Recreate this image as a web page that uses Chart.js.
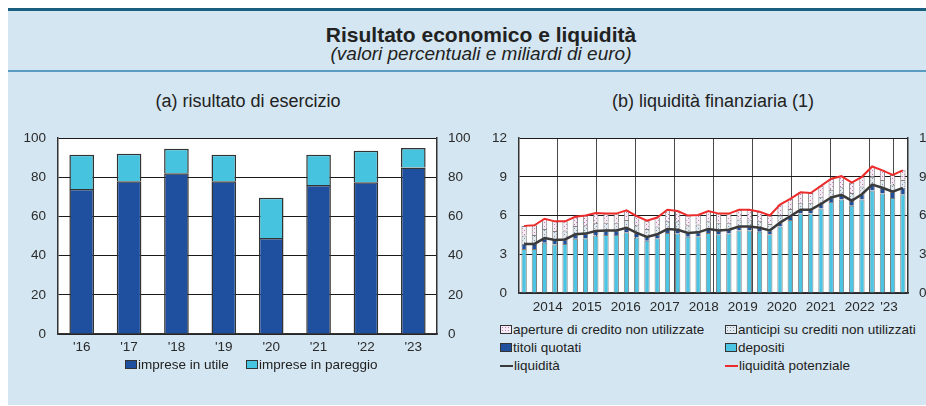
<!DOCTYPE html>
<html>
<head>
<meta charset="utf-8">
<script src="https://cdn.jsdelivr.net/npm/chart.js@4/dist/chart.umd.min.js"></script>
<style>
  html, body { margin: 0; padding: 0; background: #fff; overflow: hidden; }
  body { width: 926px; height: 406px; position: relative; font-family: "Liberation Sans", Arial, sans-serif; color: #222; }
  #panel { position: absolute; left: 8px; top: 8px; width: 946px; height: 394px; background: #d4e6f1; border-top: 3px solid #1b5f80; }
  #sep { position: absolute; left: 8px; top: 70px; width: 946px; height: 2px; background: #5b9dc2; }
  .t { position: absolute; white-space: nowrap; text-align: center; }
  #title { left: 8px; width: 946px; top: 23px; font-size: 21px; font-weight: bold; }
  #subtitle { left: 8px; width: 946px; top: 43px; font-size: 19px; font-style: italic; }
  #ta { left: 48px; width: 400px; top: 91px; font-size: 18px; }
  #tb { left: 513px; width: 400px; top: 91px; font-size: 18px; }
  canvas { position: absolute; }
  #c1 { left: 0; top: 118px; }
  #c2 { left: 480px; top: 118px; }
  .leg { position: absolute; font-size: 13.5px; white-space: nowrap; }
  .leg .it { position: absolute; display: flex; align-items: center; }
  .leg .ic { display: inline-block; box-sizing: border-box; margin-right: 1px; }
</style>
</head>
<body>
<div id="panel"></div>
<div id="sep"></div>
<div class="t" id="title">Risultato economico e liquidità</div>
<div class="t" id="subtitle">(valori percentuali e miliardi di euro)</div>
<div class="t" id="ta">(a) risultato di esercizio</div>
<div class="t" id="tb">(b) liquidità finanziaria (1)</div>
<canvas id="c1" width="480" height="240"></canvas>
<canvas id="c2" width="470" height="199"></canvas>
<div class="leg" id="leg1"></div>
<div class="leg" id="leg2"></div>
<script>
// (a) risultato di esercizio - quota di imprese
var anni = ["'16", "'17", "'18", "'19", "'20", "'21", "'22", "'23"];
var impreseUtile = [74, 78, 82, 78, 49, 76, 77.5, 85];
var impresePareggio = [17.5, 14, 12.5, 13.5, 20.5, 15.5, 16, 10];

// (b) liquidità finanziaria - dati trimestrali
var trimestri = [
    '2014T1', '2014T2', '2014T3', '2014T4', '2015T1', '2015T2', '2015T3', '2015T4',
    '2016T1', '2016T2', '2016T3', '2016T4', '2017T1', '2017T2', '2017T3', '2017T4',
    '2018T1', '2018T2', '2018T3', '2018T4', '2019T1', '2019T2', '2019T3', '2019T4',
    '2020T1', '2020T2', '2020T3', '2020T4', '2021T1', '2021T2', '2021T3', '2021T4',
    '2022T1', '2022T2', '2022T3', '2022T4', '2023T1', '2023T2'
];
var etichetteAnni = ['2014', '2015', '2016', '2017', '2018', '2019', '2020', '2021', '2022', "'23"];
var depositi = [3.4, 3.4, 3.9, 3.75, 3.8, 4.2, 4.25, 4.45, 4.5, 4.5, 4.7, 4.3, 4.05, 4.25, 4.65, 4.6, 4.35, 4.4, 4.65,
    4.55, 4.6, 4.85, 4.85, 4.75, 4.55, 5.15, 5.65, 6.15, 6.15, 6.55, 7.05, 7.25, 6.75, 7.25, 7.95, 7.7, 7.35, 7.65];
var titoli = [0.4, 0.4, 0.35, 0.35, 0.35, 0.35, 0.35, 0.35, 0.35, 0.35, 0.35, 0.35, 0.3, 0.3, 0.3, 0.3, 0.3, 0.3, 0.3,
    0.3, 0.3, 0.3, 0.3, 0.3, 0.3, 0.3, 0.3, 0.3, 0.3, 0.35, 0.35, 0.35, 0.4, 0.4, 0.45, 0.45, 0.5, 0.5];
var anticipi = [0.65, 0.7, 0.7, 0.7, 0.7, 0.65, 0.65, 0.65, 0.6, 0.6, 0.6, 0.6, 0.6, 0.6, 0.65, 0.65, 0.6, 0.6, 0.6,
    0.6, 0.55, 0.55, 0.55, 0.55, 0.5, 0.55, 0.55, 0.55, 0.55, 0.55, 0.6, 0.6, 0.6, 0.6, 0.6, 0.6, 0.55, 0.6];
var aperture = [0.75, 0.75, 0.8, 0.75, 0.7, 0.7, 0.75, 0.75, 0.7, 0.7, 0.75, 0.7, 0.65, 0.7, 0.85, 0.8, 0.75, 0.75, 0.8,
    0.7, 0.7, 0.75, 0.75, 0.7, 0.65, 0.85, 0.8, 0.8, 0.75, 0.85, 0.85, 0.85, 0.8, 0.75, 0.8, 0.75, 0.75, 0.75];
var liquidita = [3.8, 3.8, 4.25, 4.1, 4.15, 4.55, 4.6, 4.8, 4.85, 4.85, 5.05, 4.65, 4.35, 4.55, 4.95, 4.9, 4.65, 4.7, 4.95,
    4.85, 4.9, 5.15, 5.15, 5.05, 4.85, 5.45, 5.95, 6.45, 6.45, 6.9, 7.4, 7.6, 7.15, 7.65, 8.4, 8.15, 7.85, 8.15];
var liquiditaPotenziale = [5.2, 5.25, 5.75, 5.55, 5.55, 5.9, 6.0, 6.2, 6.15, 6.15, 6.4, 5.95, 5.6, 5.85, 6.45, 6.35, 6.0,
    6.05, 6.35, 6.15, 6.15, 6.45, 6.45, 6.3, 6.0, 6.85, 7.3, 7.8, 7.75, 8.3, 8.85, 9.05, 8.55, 9.0, 9.8, 9.5, 9.15, 9.5];

var FONT = { family: '"Liberation Sans", Arial, sans-serif', size: 13.5 };
var TXT = '#2a2a2a';

// white plot area
var plotBg = {
    id: 'plotBg',
    beforeDraw: function(chart) {
        var a = chart.chartArea, ctx = chart.ctx;
        ctx.save();
        ctx.fillStyle = '#ffffff';
        ctx.fillRect(a.left, a.top, a.right - a.left, a.bottom - a.top);
        ctx.restore();
    }
};

// small dotted fills for the two "non utilizzate" series
function makePattern(bg, dot) {
    var c = document.createElement('canvas');
    c.width = 4; c.height = 4;
    var g = c.getContext('2d');
    g.fillStyle = bg; g.fillRect(0, 0, 4, 4);
    g.fillStyle = dot; g.fillRect(0, 0, 1, 1); g.fillRect(2, 2, 1, 1);
    return g.createPattern(c, 'repeat');
}
var patAperture = makePattern('#f6ecf5', '#c77ab9');
var patAnticipi = makePattern('#e2eaf0', '#7d98ad');

function fixWidth(w) { return function(scale) { scale.width = w; }; }
function fixHeight(h) { return function(scale) { scale.height = h; }; }

// ---- chart (a)
var chartA = new Chart(document.getElementById('c1'), {
    type: 'bar',
    data: {
        labels: anni,
        datasets: [
            { label: 'imprese in utile', data: impreseUtile, backgroundColor: '#1f50a0', borderColor: '#333', borderWidth: 1.5, barPercentage: 0.52, categoryPercentage: 1 },
            { label: 'imprese in pareggio', data: impresePareggio, backgroundColor: '#46c4df', borderColor: '#333', borderWidth: 1.5, barPercentage: 0.52, categoryPercentage: 1 }
        ]
    },
    options: {
        responsive: false,
        animation: false,
        layout: { padding: { top: 11, left: 0, right: 0, bottom: 0 } },
        plugins: { legend: { display: false }, tooltip: { enabled: false } },
        scales: {
            x: {
                stacked: true,
                grid: { color: 'transparent', drawTicks: false },
                border: { color: '#333', width: 1.5 },
                ticks: { font: FONT, color: TXT, padding: 5 },
                afterFit: fixHeight(24)
            },
            y: {
                stacked: true, min: 0, max: 100,
                grid: { color: '#1a1a1a', drawTicks: false },
                border: { color: '#333', width: 1.5 },
                ticks: { stepSize: 20, font: FONT, color: TXT, padding: 12 },
                afterFit: fixWidth(58)
            },
            y2: {
                position: 'right', min: 0, max: 100,
                grid: { drawOnChartArea: false, drawTicks: false },
                border: { color: '#333', width: 1.5 },
                ticks: { stepSize: 20, font: FONT, color: TXT, padding: 11 },
                afterFit: fixWidth(43)
            }
        }
    },
    plugins: [plotBg]
});

// year boundaries and year centres on the quarter index scale
var gruppi = [];
trimestri.forEach(function(q, i) {
    var y = q.slice(0, 4);
    if (!gruppi.length || gruppi[gruppi.length - 1].y !== y) gruppi.push({ y: y, start: i, n: 0 });
    gruppi[gruppi.length - 1].n++;
});
var tickVals = [], confini = {}, centri = {};
gruppi.forEach(function(g, k) {
    var b = g.start - 0.5, c = g.start - 0.5 + g.n / 2;
    tickVals.push(b, c);
    confini[b] = true;
    centri[c] = etichetteAnni[k];
});
tickVals.push(trimestri.length - 0.5);
confini[trimestri.length - 0.5] = true;

// ---- chart (b)
var barBase = { type: 'bar', borderColor: '#808080', borderWidth: 1, barPercentage: 0.52, categoryPercentage: 1, order: 1 };
var chartB = new Chart(document.getElementById('c2'), {
    type: 'bar',
    data: {
        labels: trimestri,
        datasets: [
            Object.assign({ label: 'depositi', data: depositi, backgroundColor: '#4cc4e4' }, barBase),
            Object.assign({ label: 'titoli quotati', data: titoli, backgroundColor: '#1f4f9d' }, barBase),
            Object.assign({ label: 'anticipi su crediti non utilizzati', data: anticipi, backgroundColor: patAnticipi }, barBase),
            Object.assign({ label: 'aperture di credito non utilizzate', data: aperture, backgroundColor: patAperture }, barBase),
            { type: 'line', label: 'liquidità', data: liquidita, stack: 'l1', borderColor: '#3a3a3a', borderWidth: 2.5, pointRadius: 0, tension: 0, order: 0 },
            { type: 'line', label: 'liquidità potenziale', data: liquiditaPotenziale, stack: 'l2', borderColor: '#ee2b2b', borderWidth: 2, pointRadius: 0, tension: 0, order: 0 }
        ]
    },
    options: {
        responsive: false,
        animation: false,
        layout: { padding: { top: 11, left: 0, right: 0, bottom: 0 } },
        plugins: { legend: { display: false }, tooltip: { enabled: false } },
        scales: {
            x: { stacked: true, display: false },
            xt: {
                type: 'linear', position: 'bottom',
                min: -0.5, max: trimestri.length - 0.5,
                afterBuildTicks: function(axis) {
                    axis.ticks = tickVals.map(function(v) { return { value: v }; });
                },
                grid: {
                    drawTicks: false,
                    color: function(ctx) { return ctx.tick && confini[ctx.tick.value] ? '#4a4a4a' : 'transparent'; }
                },
                border: { color: '#333', width: 1.5 },
                ticks: {
                    autoSkip: false, maxRotation: 0, font: FONT, color: TXT, padding: 6,
                    callback: function(v) { return centri[v] || ''; }
                },
                afterFit: fixHeight(24)
            },
            y: {
                stacked: true, min: 0, max: 12,
                grid: { color: '#1a1a1a', drawTicks: false },
                border: { color: '#333', width: 1.5 },
                ticks: { stepSize: 3, font: FONT, color: TXT, padding: 12 },
                afterFit: fixWidth(39)
            },
            y2: {
                position: 'right', min: 0, max: 12,
                grid: { drawOnChartArea: false, drawTicks: false },
                border: { color: '#333', width: 1.5 },
                ticks: { stepSize: 3, font: FONT, color: TXT, padding: 11 },
                afterFit: fixWidth(42)
            }
        }
    },
    plugins: [plotBg]
});

// ---- HTML legends built from the datasets
function iconFor(ds) {
    var s = document.createElement('span');
    s.className = 'ic';
    if (ds.type === 'line') {
        s.style.width = '13px'; s.style.height = '2px'; s.style.background = ds.borderColor;
    } else {
        s.style.width = '12px'; s.style.height = '9px';
        s.style.border = '1px solid #333';
        if (ds.backgroundColor === patAperture) {
            s.style.background = 'radial-gradient(#c77ab9 0.7px, #f6ecf5 0.8px) 0 0 / 3px 3px';
        } else if (ds.backgroundColor === patAnticipi) {
            s.style.background = 'radial-gradient(#7d98ad 0.7px, #e2eaf0 0.8px) 0 0 / 3px 3px';
        } else {
            s.style.background = ds.backgroundColor;
        }
    }
    return s;
}
function addItem(box, ds, x, y) {
    var it = document.createElement('div');
    it.className = 'it';
    it.style.left = x + 'px'; it.style.top = y + 'px';
    it.appendChild(iconFor(ds));
    it.appendChild(document.createTextNode(ds.label));
    box.appendChild(it);
}

var leg1 = document.getElementById('leg1');
leg1.style.left = '0px'; leg1.style.top = '357px';
addItem(leg1, chartA.data.datasets[0], 125, 0);
addItem(leg1, chartA.data.datasets[1], 246, 0);

var leg2 = document.getElementById('leg2');
leg2.style.left = '0px'; leg2.style.top = '322px';
var dsB = chartB.data.datasets;
var ordine = [3, 2, 1, 0, 4, 5];
ordine.forEach(function(idx, k) {
    var col = k % 2, row = Math.floor(k / 2);
    addItem(leg2, dsB[idx], col ? 725 : 500, row * 18);
});
</script>
</body>
</html>
